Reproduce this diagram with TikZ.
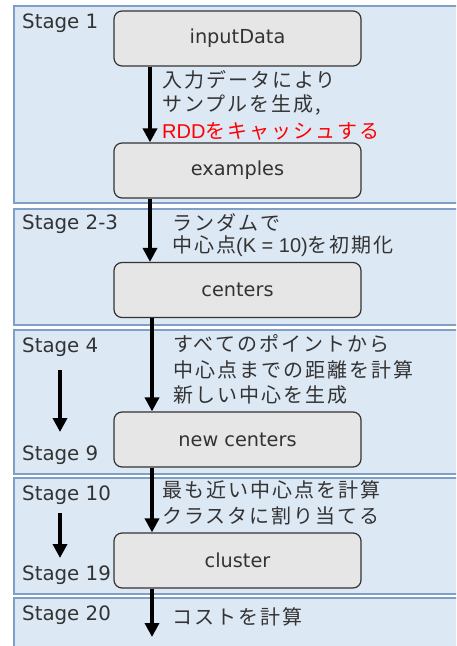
\documentclass[tikz,border=0pt]{standalone}
\usepackage{fontspec}
\usetikzlibrary{arrows.meta}
\newfontfamily\jpf[LetterSpace=10]{Noto Sans CJK JP}
\newfontfamily\latf{DejaVu Sans}
\newfontfamily\arf{Liberation Sans}
\definecolor{bandfill}{HTML}{DDE8F5}
\definecolor{bandline}{HTML}{7F9FC6}
\definecolor{boxfill}{HTML}{E6E6E6}
\definecolor{txt}{HTML}{333333}
\begin{document}
\begin{tikzpicture}[x=1pt,y=-1pt,
  band/.style={draw=bandline, fill=bandfill, line width=1.3pt},
  proc/.style={draw=black!80, fill=boxfill, rounded corners=8pt, line width=1.2pt,
    minimum width=247pt, minimum height=55pt, inner sep=0pt,
    font=\latf\fontsize{19.3}{21}\selectfont, text=txt},
  stg/.style={anchor=west, inner sep=0pt, font=\latf\fontsize{19.8}{22}\selectfont, text=txt},
  jline/.style={anchor=west, inner sep=0pt, font=\jpf\fontsize{20}{24}\selectfont, text=txt},
  flow/.style={line width=4.5pt, -{Triangle[width=14pt,length=14pt]}},
  ]
\path[use as bounding box] (0,0) rectangle (456,646);
\clip (0,0) rectangle (456,646);
% stage bands
\path[band] (14,6) rectangle (470,203);
\path[band] (14,209) rectangle (470,325);
\path[band] (14,330) rectangle (470,474);
\path[band] (14,478) rectangle (470,594);
\path[band] (14,598) rectangle (470,670);
% process boxes
\node[proc] (in) at (237.5,38.5) {inputData};
\node[proc] (ex) at (237.5,170.5) {examples};
\node[proc] (ce) at (237.5,290) {centers};
\node[proc] (nc) at (237.5,439.5) {new centers};
\node[proc] (cl) at (237.5,560.5) {cluster};
% arrow x positions
\coordinate (xa) at (150,0);
\coordinate (xb) at (152,0);
\coordinate (endc) at (152,637);
\draw[flow] (in.south -| xa) -- (ex.north -| xa);
\draw[flow] (ex.south -| xa) -- (ce.north -| xa);
\draw[flow] (ce.south -| xb) -- (nc.north -| xb);
\draw[flow] (nc.south -| xb) -- (cl.north -| xb);
\draw[flow] (cl.south -| xb) -- (endc);
% small stage arrows
\coordinate (sa1) at (60,370);
\coordinate (sa2) at (60,432);
\coordinate (sb1) at (60,513);
\coordinate (sb2) at (60,558);
\draw[flow, line width=4pt] (sa1) -- (sa2);
\draw[flow, line width=4pt] (sb1) -- (sb2);
% stage labels
\node[stg] (s1) at (22,23) {Stage 1};
\node[stg] (s23) at (22,224) {Stage 2-3};
\node[stg] (s4) at (22,347) {Stage 4};
\node[stg] (s9) at (22,455) {Stage 9};
\node[stg] (s10) at (22,495) {Stage 10};
\node[stg] (s19) at (22,575) {Stage 19};
\node[stg] (s20) at (22,615) {Stage 20};
% descriptions
\node[jline] (t1a) at (162,80) {入力データにより};
\node[jline] (t1b) at (162,105) {サンプルを生成,};
\node[jline, text=red] (t1c) at (162,131) {{\arf RDD}をキャッシュする};
\node[jline] (t2a) at (172,223) {ランダムで};
\node[jline] (t2b) at (172,246) {中心点{\arf (K = 10)}を初期化};
\node[jline] (t3a) at (173,344) {すべてのポイントから};
\node[jline] (t3b) at (173,370) {中心点までの距離を計算};
\node[jline] (t3c) at (173,395) {新しい中心を生成};
\node[jline] (t4a) at (162,490) {最も近い中心点を計算};
\node[jline] (t4b) at (162,516) {クラスタに割り当てる};
\node[jline] (t5a) at (172,617) {コストを計算};
\end{tikzpicture}
\end{document}
